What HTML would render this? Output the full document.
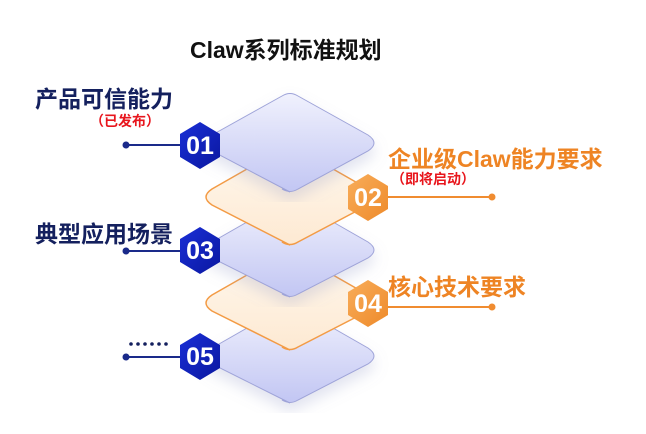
<!DOCTYPE html>
<html><head><meta charset="utf-8"><style>
body{margin:0;width:646px;height:434px;background:#fff;overflow:hidden;position:relative;font-family:"Liberation Sans","Noto Sans CJK SC",sans-serif;}
.t{position:absolute;font-weight:bold;white-space:nowrap;}
</style></head><body>
<svg width="646" height="434" style="position:absolute;left:0;top:0">
<defs>
<linearGradient id="bl" x1="0" y1="0" x2="0" y2="1"><stop offset="0" stop-color="#f0f1fd"/><stop offset="1" stop-color="#c2c6f3"/></linearGradient>
<linearGradient id="or" x1="0" y1="0" x2="0" y2="1"><stop offset="0" stop-color="#fff8ee"/><stop offset="1" stop-color="#fde9d2"/></linearGradient>
<linearGradient id="hb" x1="0" y1="0" x2="1" y2="1"><stop offset="0" stop-color="#1a2fd6"/><stop offset="1" stop-color="#0a17a0"/></linearGradient>
<linearGradient id="ho" x1="0" y1="0" x2="1" y2="1"><stop offset="0" stop-color="#f8ad5a"/><stop offset="1" stop-color="#ee8a2a"/></linearGradient>
<filter id="sh"><feDropShadow dx="0" dy="8" stdDeviation="7" flood-color="#8890c0" flood-opacity="0.25"/></filter>
</defs>
<path d="M290 403 L212 364 Q200 356 212 348 L282 308 Q290 303 298 308 L368 348 Q380 356 368 364 L298 400 Q290 405 282 400 Z" fill="url(#bl)" stroke="#9ea3d8" stroke-width="1" filter="url(#sh)"/>
<path d="M290 350 L212 311 Q200 303 212 295 L282 255 Q290 250 298 255 L368 295 Q380 303 368 311 L298 347 Q290 352 282 347 Z" fill="url(#or)" stroke="#f39b45" stroke-width="1.5"/>
<path d="M290 297 L212 258 Q200 250 212 242 L282 202 Q290 197 298 202 L368 242 Q380 250 368 258 L298 294 Q290 299 282 294 Z" fill="url(#bl)" stroke="#9ea3d8" stroke-width="1" filter="url(#sh)"/>
<path d="M290 245 L212 205 Q200 197 212 189 L282 149 Q290 144 298 149 L368 189 Q380 197 368 205 L298 242 Q290 247 282 242 Z" fill="url(#or)" stroke="#f39b45" stroke-width="1.5"/>
<path d="M290 192 L212 151 Q200 143 212 135 L282 96 Q290 91 298 96 L368 135 Q380 143 368 151 L298 189 Q290 194 282 189 Z" fill="url(#bl)" stroke="#9ea3d8" stroke-width="1" filter="url(#sh)"/>
<g stroke-width="2">
<line x1="126" y1="145" x2="185" y2="145" stroke="#1a2a8a"/><circle cx="126" cy="145" r="3.5" fill="#1a2a8a"/>
<line x1="126" y1="251" x2="185" y2="251" stroke="#1a2a8a"/><circle cx="126" cy="251" r="3.5" fill="#1a2a8a"/>
<line x1="126" y1="357" x2="185" y2="357" stroke="#1a2a8a"/><circle cx="126" cy="357" r="3.5" fill="#1a2a8a"/>
<line x1="383" y1="197" x2="492" y2="197" stroke="#f08c30"/><circle cx="492" cy="197" r="3.5" fill="#f08c30"/>
<line x1="383" y1="307" x2="492" y2="307" stroke="#f08c30"/><circle cx="492" cy="307" r="3.5" fill="#f08c30"/>
</g>
<g font-family="Liberation Sans,sans-serif" font-weight="bold" font-size="25" fill="#fff" text-anchor="middle">
<polygon points="200,122 220,134 220,157 200,169 180,157 180,134" fill="url(#hb)"/><text x="200" y="154">01</text>
<polygon points="368,174 388,186 388,209 368,221 348,209 348,186" fill="url(#ho)"/><text x="368" y="206">02</text>
<polygon points="200,227 220,239 220,262 200,274 180,262 180,239" fill="url(#hb)"/><text x="200" y="259">03</text>
<polygon points="368,280 388,292 388,315 368,327 348,315 348,292" fill="url(#ho)"/><text x="368" y="312">04</text>
<polygon points="200,333 220,345 220,368 200,380 180,368 180,345" fill="url(#hb)"/><text x="200" y="365">05</text>
</g>
<g fill="#14205e"><circle cx="131" cy="344" r="1.8"/><circle cx="138" cy="344" r="1.8"/><circle cx="145" cy="344" r="1.8"/><circle cx="152" cy="344" r="1.8"/><circle cx="159" cy="344" r="1.8"/><circle cx="166" cy="344" r="1.8"/></g>
</svg>
<div class="t" style="left:190px;top:31px;font-size:23px;color:#111;">Claw系列标准规划</div>
<div class="t" style="left:35px;top:80px;font-size:23px;color:#14205e;">产品可信能力</div>
<div class="t" style="left:90px;top:111px;font-size:14px;color:#e8161d;">（已发布）</div>
<div class="t" style="left:388px;top:140px;font-size:23px;color:#ee8424;">企业级Claw能力要求</div>
<div class="t" style="left:391px;top:169px;font-size:14px;color:#e8161d;">（即将启动）</div>
<div class="t" style="left:35px;top:215px;font-size:23px;color:#14205e;">典型应用场景</div>
<div class="t" style="left:388px;top:268px;font-size:23px;color:#ee8424;">核心技术要求</div>
</body></html>
